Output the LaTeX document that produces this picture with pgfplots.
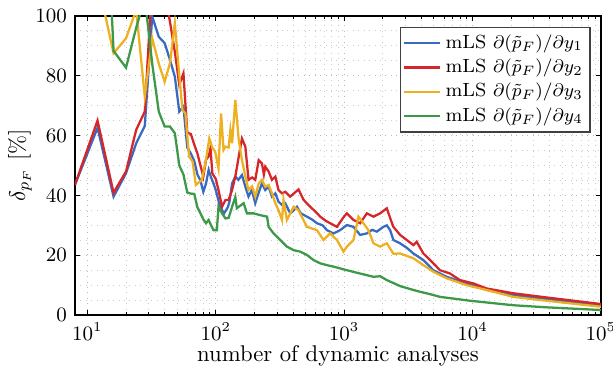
\documentclass[border=0pt]{standalone}
\usepackage{pgfplots}
\pgfplotsset{compat=1.18}
\usetikzlibrary{calc}
\definecolor{mblue}{rgb}{0.22,0.42,0.75}
\definecolor{mred}{rgb}{0.84,0.15,0.16}
\definecolor{myellow}{rgb}{0.93,0.69,0.13}
\definecolor{mgreen}{rgb}{0.23,0.6,0.28}
\begin{document}
\begin{tikzpicture}
\begin{axis}[
  scale only axis, width=231.7pt, height=131.8pt,
  xmode=log, xmin=8, xmax=1e5, ymin=0, ymax=100,
  xtick={10,100,1000,10000,100000},
  ytick={0,20,40,60,80,100}, minor y tick num=3,
  grid=both,
  major grid style={dotted, gray!55},
  minor grid style={dotted, gray!40},
  tick align=inside,
  major tick length=2.2pt, minor tick length=1.2pt,
  minor y tick style={draw=none},
  axis line style={black, line width=0.6pt},
  every tick/.style={black, line width=0.4pt},
  tick label style={font=\small},
  label style={font=\normalsize},
  xlabel={number of dynamic analyses},
  ylabel={$\delta_{p_F}$ [\%]},
  xlabel style={at={(axis description cs:0.5,-0.137)}, anchor=center},
  ylabel style={at={(axis description cs:-0.1045,0.5)}, anchor=center},
  legend style={at={(1,1)}, anchor=north east, xshift=-4.5pt, yshift=-4.8pt,
    font=\fontsize{8.4}{9}\selectfont, draw=gray!50!black, line width=0.6pt, fill=white,
    inner sep=1.2pt, row sep=-0.8pt},
  legend image code/.code={\draw[#1,line width=1pt] (0cm,0cm) -- (0.55cm,0cm);},
  legend cell align=left,
  every axis plot/.append style={line width=1pt},
]
\addplot[mblue] coordinates {(8,43.5)(12,62.6)(16,39.6)(20,47.4)(24,57.4)(28,63.2)(32,99.8)(36,93)(40,90.9)(44,85.3)(48,79.7)(52,68)(56,69.7)(60,56)(64,54)(68,51.5)(72,47)(76,45)(80,41.2)(84,44)(88,48.5)(92,46)(96,44)(100,41.8)(108,36.2)(116,34)(124,36)(128,38)(134,44)(142,46.3)(150,45.2)(160,46.8)(170,42.9)(180,39.6)(191,41.8)(203,37.4)(215,40.7)(229,44)(243,41.8)(258,42.9)(274,39.6)(291,40.7)(308,37.9)(328,36.8)(348,37.4)(380,34)(405,35)(429,36.2)(460,34)(513,32.9)(560,32)(614,30.7)(680,30)(734,28.4)(826,27.3)(931,28.4)(1050,30.1)(1181,29.5)(1331,26.8)(1502,27.3)(1650,28.5)(1796,27.9)(2021,29.5)(2150,30)(2279,28.4)(2418,25.1)(2726,24)(3073,22.5)(3459,20.6)(4137,18.4)(4948,15)(6290,12.8)(8999,10.6)(12870,8.4)(20730,6.7)(37690,5.3)(100000,3.3)};
\addlegendentry{mLS $\partial(\tilde{p}_F)/\partial y_1$}
\addplot[mred] coordinates {(8,43.5)(12,65)(16,40.9)(20,48)(24,61.9)(28,68)(32,112)(36,118)(40,108)(44,98)(48,88)(52,77)(56,80.8)(60,61)(64,60.5)(68,57)(72,54)(76,50)(80,46.3)(84,52)(88,53)(91,55.8)(94,47.4)(100,45.5)(105,41.8)(112,36.2)(119,38.5)(126,38.5)(134,41.8)(142,46.3)(151,53)(160,59)(170,56.3)(180,45.2)(192,46)(203,45.2)(216,51.8)(229,50.7)(237,47)(243,49.6)(258,48)(274,45.2)(291,46.3)(308,41.8)(328,40.7)(348,41.2)(380,39.6)(441,42)(483,38.5)(544,36.2)(600,34.5)(651,32.9)(720,31.5)(778,30.7)(878,29.5)(1000,33)(1050,34)(1181,31.8)(1331,30.7)(1502,34)(1690,32.9)(1905,34)(2148,35.7)(2300,32)(2418,29.5)(2726,26.8)(3073,25.1)(3459,23.4)(3675,24.5)(4137,20.6)(4948,17.3)(5578,15)(6672,13.9)(7980,11.7)(10126,10.6)(12870,8.9)(20730,7.3)(37690,5.9)(100000,3.7)};
\addlegendentry{mLS $\partial(\tilde{p}_F)/\partial y_2$}
\addplot[myellow] coordinates {(8,115)(12,112)(16,87.5)(20,92.5)(24,102)(28,73)(32,92.5)(36,84)(40,78)(44,84.2)(48,97.5)(52,80)(55,68.6)(58,67.4)(62,53)(66,51.3)(70,43.5)(78,45.2)(84,52)(89,59)(94,56)(99,54.6)(105,49)(110,67.4)(115,55.2)(119,56.3)(126,56)(130,61.9)(134,57.4)(142,71.9)(151,58.5)(160,51.8)(170,46.3)(180,41.8)(192,43)(203,39.6)(216,44)(229,45.2)(243,42.9)(258,43.5)(274,40.7)(291,37.4)(308,35.1)(328,31.8)(337,38.5)(358,31.8)(404,36.2)(441,35)(513,29.5)(614,28.4)(690,25.1)(778,27.3)(878,25.1)(988,21.2)(1050,22.9)(1181,25.1)(1292,32.9)(1413,30.7)(1545,28.4)(1690,24)(1905,22.9)(2148,24)(2418,20.5)(2726,20.6)(3459,19)(4137,16.7)(4948,14.5)(6290,12.3)(8999,10)(12870,8.4)(20730,6.1)(37690,4.8)(100000,2.8)};
\addlegendentry{mLS $\partial(\tilde{p}_F)/\partial y_3$}
\addplot[mgreen] coordinates {(8,200)(12,200)(16,88.3)(20,82.7)(24,96)(28,106)(32,84)(36,68)(40,63)(44,63)(48,60.8)(52,50)(56,47)(60,41)(64,40.6)(68,40.5)(72,36)(76,34)(80,32)(84,30.7)(88,31.8)(92,30)(96,28.4)(102,28.4)(105,36.2)(112,34)(119,32.3)(126,32.5)(134,36.2)(142,39.5)(146,35.7)(151,36.2)(165,37.4)(175,34)(197,34)(222,33.4)(251,32.9)(258,29.5)(282,27.3)(318,25.1)(358,22.9)(404,21.7)(455,21.2)(513,20.1)(577,18.4)(651,17.3)(734,16.7)(826,16.2)(931,15.6)(1050,15)(1331,13.9)(1690,12.8)(1905,13)(2148,11.7)(2726,9.7)(3459,8.4)(3899,7.8)(4666,7)(5578,6.1)(9546,4.8)(20730,3.3)(37690,2.6)(100000,1.7)};
\addlegendentry{mLS $\partial(\tilde{p}_F)/\partial y_4$}
\end{axis}
\pgfresetboundingbox
\path[use as bounding box] ($(current axis.south west)+(-33pt,-26pt)$) rectangle ($(current axis.north east)+(5.3pt,7pt)$);
\end{tikzpicture}
\end{document}
